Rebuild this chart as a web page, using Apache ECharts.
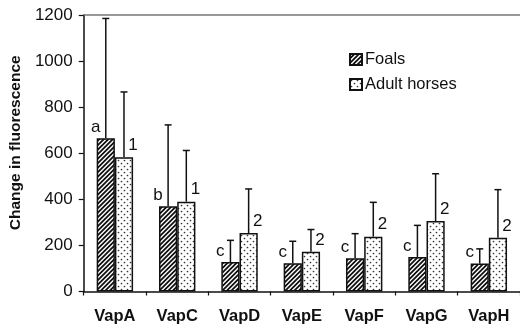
<!DOCTYPE html>
<html>
<head>
<meta charset="utf-8">
<script src="https://cdn.jsdelivr.net/npm/echarts@6/dist/echarts.min.js"></script>
<style>html,body{margin:0;padding:0;background:#fff}#c{width:520px;height:332px}</style>
</head>
<body>
<div id="c"></div>
<script>
const categories = ['VapA', 'VapC', 'VapD', 'VapE', 'VapF', 'VapG', 'VapH'];
const foals = [665, 370, 128, 123, 144, 150, 121];
const foalsSD = [520, 353, 94, 95, 107, 137, 64];
const adults = [583, 390, 254, 172, 238, 306, 233];
const adultsSD = [283, 222, 191, 97, 149, 205, 209];
const foalLetters = ['a', 'b', 'c', 'c', 'c', 'c', 'c'];
const adultNumbers = ['1', '1', '2', '2', '2', '2', '2'];
const yTicks = [0, 200, 400, 600, 800, 1000, 1200];

const FONT = '"Liberation Sans", Arial, sans-serif';
const BAR_FRAC = 0.292;

function hatchPattern() {
  const s = 4.5;
  const c = document.createElement('canvas');
  c.width = 9; c.height = 9;
  const g = c.getContext('2d');
  g.fillStyle = '#fff'; g.fillRect(0, 0, 9, 9);
  g.strokeStyle = '#111'; g.lineWidth = 1.8;
  g.beginPath();
  for (let k = -2; k <= 4; k++) {
    const o = k * s;
    g.moveTo(o - 1, 10); g.lineTo(o + 10, -1);
  }
  g.stroke();
  return c;
}
function dotPattern() {
  const s = 6;
  const c = document.createElement('canvas');
  c.width = s; c.height = s;
  const g = c.getContext('2d');
  g.fillStyle = '#fff'; g.fillRect(0, 0, s, s);
  g.fillStyle = '#333';
  g.beginPath(); g.arc(1.5, 1.5, 0.85, 0, Math.PI * 2); g.fill();
  g.beginPath(); g.arc(4.5, 4.5, 0.85, 0, Math.PI * 2); g.fill();
  return c;
}

function errorRenderer(side) {
  return function (params, api) {
    const i = api.value(0), mean = api.value(1), err = api.value(2);
    const base = api.coord([i, mean]);
    const top = api.coord([i, mean + err]);
    const bw = api.size([1, 0])[0] * BAR_FRAC;
    const x = base[0] + side * bw / 2;
    const st = { stroke: '#111', lineWidth: 1.5 };
    return {
      type: 'group',
      children: [
        { type: 'line', shape: { x1: x, y1: base[1], x2: x, y2: top[1] }, style: st },
        { type: 'line', shape: { x1: x - 3.5, y1: top[1], x2: x + 3.5, y2: top[1] }, style: st }
      ]
    };
  };
}

const chart = echarts.init(document.getElementById('c'), null, { renderer: 'canvas' });
chart.setOption({
  animation: false,
  backgroundColor: '#fff',
  textStyle: { fontFamily: FONT },
  grid: { left: 79, top: 15, width: 443, height: 276.5 },
  legend: {
    orient: 'vertical', left: 344, top: 46,
    itemWidth: 12, itemHeight: 11, itemGap: 8,
    icon: 'rect',
    textStyle: { fontFamily: FONT, fontSize: 16.5, color: '#111', padding: [0, 0, 0, -2] },
    data: ['Foals', 'Adult horses']
  },
  xAxis: [{
    type: 'category', data: categories,
    axisLine: { lineStyle: { color: '#111', width: 1.5 } },
    axisTick: { show: true, length: 4, lineStyle: { color: '#111', width: 1.2 } },
    axisLabel: { fontFamily: FONT, fontSize: 16.5, fontWeight: 'bold', color: '#111', margin: 16 }
  }, {
    type: 'category', data: categories, position: 'top',
    axisLine: { onZero: false, lineStyle: { color: '#777', width: 1.5 } },
    axisTick: { show: false }, axisLabel: { show: false }
  }],
  yAxis: {
    type: 'value', min: 0, max: 1200, interval: 200,
    name: 'Change in fluorescence', nameLocation: 'middle', nameGap: 52,
    nameTextStyle: { fontFamily: FONT, fontSize: 15.5, fontWeight: 'bold', color: '#111', padding: [0, 0, 0, 21] },
    axisLine: { show: true, lineStyle: { color: '#111', width: 1.5 } },
    axisTick: { show: true, length: 5, lineStyle: { color: '#111', width: 1.2 } },
    axisLabel: { fontFamily: FONT, fontSize: 17, color: '#111', margin: 11,
      formatter: v => yTicks.includes(v) ? String(v) : '' },
    splitLine: { show: false }
  },
  series: [
    {
      name: 'Foals', type: 'bar', data: foals, xAxisIndex: 0,
      barWidth: (BAR_FRAC * 100) + '%', barGap: '0%',
      itemStyle: { color: { image: hatchPattern(), repeat: 'repeat' }, borderColor: '#111', borderWidth: 1.5 },
      label: { show: true, position: [-1, -11], align: 'center', verticalAlign: 'middle',
        fontFamily: FONT, fontSize: 17, color: '#111',
        formatter: p => foalLetters[p.dataIndex] }
    },
    {
      name: 'Adult horses', type: 'bar', data: adults, xAxisIndex: 0,
      barWidth: (BAR_FRAC * 100) + '%', barGap: '0%',
      itemStyle: { color: { image: dotPattern(), repeat: 'repeat' }, borderColor: '#111', borderWidth: 1.5 },
      label: { show: true, position: ['100%', -12], align: 'center', verticalAlign: 'middle',
        fontFamily: FONT, fontSize: 17, color: '#111',
        formatter: p => adultNumbers[p.dataIndex] }
    },
    {
      type: 'custom', renderItem: errorRenderer(-1), z: 5, xAxisIndex: 0,
      data: categories.map((c, i) => [i, foals[i], foalsSD[i]]),
      encode: { x: 0, y: 1 }
    },
    {
      type: 'custom', renderItem: errorRenderer(1), z: 5, xAxisIndex: 0,
      data: categories.map((c, i) => [i, adults[i], adultsSD[i]]),
      encode: { x: 0, y: 1 }
    }
  ]
});
</script>
</body>
</html>
